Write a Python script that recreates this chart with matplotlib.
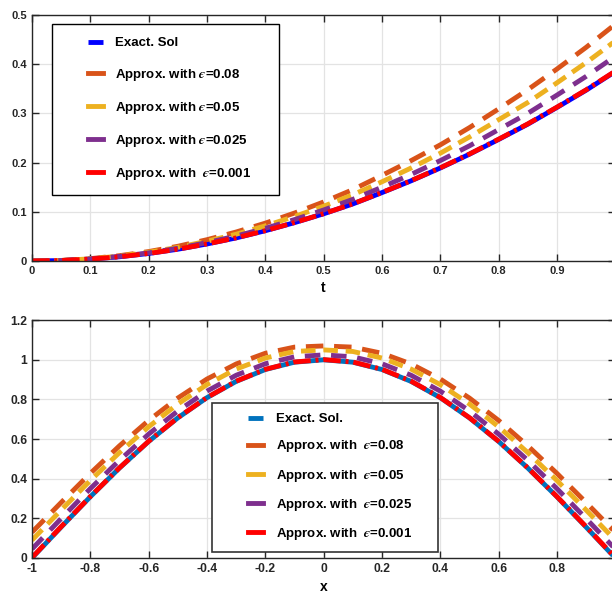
import numpy as np
import matplotlib.pyplot as plt
from matplotlib.legend_handler import HandlerLine2D

plt.rcParams['font.family'] = ['Liberation Sans', 'DejaVu Sans']
plt.rcParams['font.weight'] = 'bold'
plt.rcParams['mathtext.fontset'] = 'stix'
plt.rcParams['axes.unicode_minus'] = False

# solution in time
t = [0.0, 0.05, 0.1, 0.15, 0.2, 0.25, 0.3, 0.35, 0.4, 0.45, 0.5,
     0.55, 0.6, 0.65, 0.7, 0.75, 0.8, 0.85, 0.9, 0.95, 1.0]
u_exact_t = [0.0, 0.001, 0.0039, 0.0087, 0.0154, 0.024, 0.0347, 0.047, 0.0616, 0.078, 0.096,
             0.116, 0.139, 0.163, 0.189, 0.217, 0.247, 0.278, 0.312, 0.347, 0.385]
u_eps08_t = [0.0, 0.0012, 0.0049, 0.0109, 0.0193, 0.030, 0.0434, 0.059, 0.077, 0.0975, 0.12,
             0.145, 0.174, 0.204, 0.236, 0.271, 0.309, 0.348, 0.39, 0.434, 0.481]
u_eps05_t = [0.0, 0.0012, 0.0045, 0.0101, 0.0179, 0.0278, 0.0403, 0.0545, 0.0715, 0.0905, 0.1114,
             0.1346, 0.161, 0.189, 0.219, 0.252, 0.287, 0.322, 0.362, 0.403, 0.447]
u_eps025_t = [0.0, 0.0011, 0.0042, 0.0094, 0.0166, 0.026, 0.0375, 0.0508, 0.0665, 0.0842, 0.1037,
              0.1253, 0.150, 0.176, 0.204, 0.234, 0.267, 0.300, 0.337, 0.375, 0.416]
u_eps001_t = [0.0, 0.001, 0.0039, 0.0087, 0.0154, 0.024, 0.0348, 0.0471, 0.0617, 0.0781, 0.0962,
              0.1162, 0.1393, 0.1633, 0.1894, 0.2174, 0.2475, 0.2786, 0.3126, 0.3477, 0.3858]

# solution in space
x = [-1.0, -0.9, -0.8, -0.7, -0.6, -0.5, -0.4, -0.3, -0.2, -0.1, 0.0,
     0.1, 0.2, 0.3, 0.4, 0.5, 0.6, 0.7, 0.8, 0.9, 1.0]
u_exact_x = [0.0, 0.156, 0.309, 0.454, 0.588, 0.707, 0.809, 0.891, 0.951, 0.988, 1.0,
             0.988, 0.951, 0.891, 0.809, 0.707, 0.588, 0.454, 0.309, 0.156, 0.0]
u_eps08_x = [0.13, 0.280, 0.427, 0.566, 0.694, 0.807, 0.903, 0.979, 1.033, 1.064, 1.07,
             1.064, 1.033, 0.979, 0.903, 0.807, 0.694, 0.566, 0.427, 0.280, 0.13]
u_eps05_x = [0.09, 0.242, 0.391, 0.532, 0.662, 0.777, 0.875, 0.953, 1.009, 1.042, 1.05,
             1.042, 1.009, 0.953, 0.875, 0.777, 0.662, 0.532, 0.391, 0.242, 0.09]
u_eps025_x = [0.045, 0.199, 0.350, 0.493, 0.625, 0.742, 0.842, 0.922, 0.980, 1.015, 1.025,
              1.015, 0.980, 0.922, 0.842, 0.742, 0.625, 0.493, 0.350, 0.199, 0.045]
u_eps001_x = [0.002, 0.158, 0.310, 0.455, 0.589, 0.708, 0.810, 0.892, 0.952, 0.989, 1.001,
              0.989, 0.952, 0.892, 0.810, 0.708, 0.589, 0.455, 0.310, 0.158, 0.002]

labels_top = ['Exact. Sol', 'Approx. with $ϵ$=0.08', 'Approx. with $ϵ$=0.05',
              'Approx. with $ϵ$=0.025', 'Approx. with  $ϵ$=0.001']
labels_bot = ['Exact. Sol.', 'Approx. with  $ϵ$=0.08', 'Approx. with  $ϵ$=0.05',
              'Approx. with  $ϵ$=0.025', 'Approx. with  $ϵ$=0.001']

ORANGE = '#D95319'
YELLOW = '#EDB120'
PURPLE = '#7E2F8E'
LW = 3.5


class ShortHandle(HandlerLine2D):
    # draw only a short stub at the right end of the handle box
    def __init__(self, stub, **kw):
        super().__init__(**kw)
        self.stub = stub

    def create_artists(self, legend, orig_handle, xdescent, ydescent, width, height, fontsize, trans):
        off = width - self.stub * fontsize
        arts = super().create_artists(legend, orig_handle, -off, ydescent,
                                      self.stub * fontsize, height, fontsize, trans)
        for a in arts:
            a.set_linestyle('-')
        return arts


def draw_curves(ax, xs, exact, approx, exact_color):
    lines = [ax.plot(xs, exact, color=exact_color, lw=LW, solid_capstyle='butt')[0]]
    styles = [(ORANGE, (3.6, 2.2)), (YELLOW, (3.0, 1.6)), (PURPLE, (3.2, 2.2))]
    for ys, (c, d) in zip(approx[:3], styles):
        lines.append(ax.plot(xs, ys, color=c, lw=LW, dashes=d, dash_capstyle='butt')[0])
    lines.append(ax.plot(xs, approx[3], color='red', lw=LW, dashes=(3.6, 1.0, 0.6, 1.0),
                         dash_capstyle='butt')[0])
    return lines


def style_axes(ax, fs):
    ax.grid(True, color='#e3e3e3', lw=0.9)
    ax.set_axisbelow(True)
    ax.tick_params(direction='in', top=True, right=True, length=5, width=1,
                   colors='#262626', labelsize=fs, labelcolor='#262626')
    for s in ax.spines.values():
        s.set_color('#262626')
        s.set_linewidth(1.0)


fig = plt.figure(figsize=(6.12, 5.96), dpi=100)

# top panel: u(t)
ax1 = fig.add_axes([0.0523, 0.562, 0.953, 0.413])
lines1 = draw_curves(ax1, t, u_exact_t, [u_eps08_t, u_eps05_t, u_eps025_t, u_eps001_t], 'blue')
ax1.set_xlim(0, 1)
ax1.set_ylim(0, 0.5)
ax1.set_xticks(np.arange(0, 0.95, 0.1))
ax1.set_xticklabels(['0', '0.1', '0.2', '0.3', '0.4', '0.5', '0.6', '0.7', '0.8', '0.9'])
ax1.set_yticks([0, 0.1, 0.2, 0.3, 0.4, 0.5])
ax1.set_yticklabels(['0', '0.1', '0.2', '0.3', '0.4', '0.5'])
ax1.set_xlabel('t', fontsize=10, fontweight='bold', labelpad=4)
style_axes(ax1, 8)

leg1 = ax1.legend(lines1, labels_top, loc='upper left',
                  bbox_to_anchor=(52 / 612, 1 - 191 / 596, 227 / 612, 167 / 596),
                  bbox_transform=fig.transFigure, mode='expand', borderaxespad=0,
                  fontsize=9.5, borderpad=1.0, labelspacing=1.3, handlelength=2.9,
                  handletextpad=0.9, fancybox=False, framealpha=1, edgecolor='black',
                  handler_map={l: ShortHandle(1.15) for l in lines1})
leg1.get_frame().set_linewidth(1.0)

# bottom panel: u(x)
ax2 = fig.add_axes([0.0523, 0.0638, 0.953, 0.399])
lines2 = draw_curves(ax2, x, u_exact_x, [u_eps08_x, u_eps05_x, u_eps025_x, u_eps001_x], '#0072BD')
ax2.set_xlim(-1, 1)
ax2.set_ylim(0, 1.2)
ax2.set_xticks([-1, -0.8, -0.6, -0.4, -0.2, 0, 0.2, 0.4, 0.6, 0.8])
ax2.set_xticklabels(['-1', '-0.8', '-0.6', '-0.4', '-0.2', '0', '0.2', '0.4', '0.6', '0.8'])
ax2.set_yticks([0, 0.2, 0.4, 0.6, 0.8, 1.0, 1.2])
ax2.set_yticklabels(['0', '0.2', '0.4', '0.6', '0.8', '1', '1.2'])
ax2.set_xlabel('x', fontsize=10, fontweight='bold', labelpad=4)
style_axes(ax2, 8.7)

leg2 = ax2.legend(lines2, labels_bot, loc='upper left',
                  bbox_to_anchor=(212 / 612, 1 - 547 / 596, 226 / 612, 144 / 596),
                  bbox_transform=fig.transFigure, mode='expand', borderaxespad=0,
                  fontsize=9.5, borderpad=0.75, labelspacing=1.0, handlelength=3.1,
                  handletextpad=0.98, fancybox=False, framealpha=1, edgecolor='#333333',
                  handler_map={l: ShortHandle(1.15) for l in lines2})
leg2.get_frame().set_linewidth(1.2)

fig.savefig('out.png', dpi=100)
